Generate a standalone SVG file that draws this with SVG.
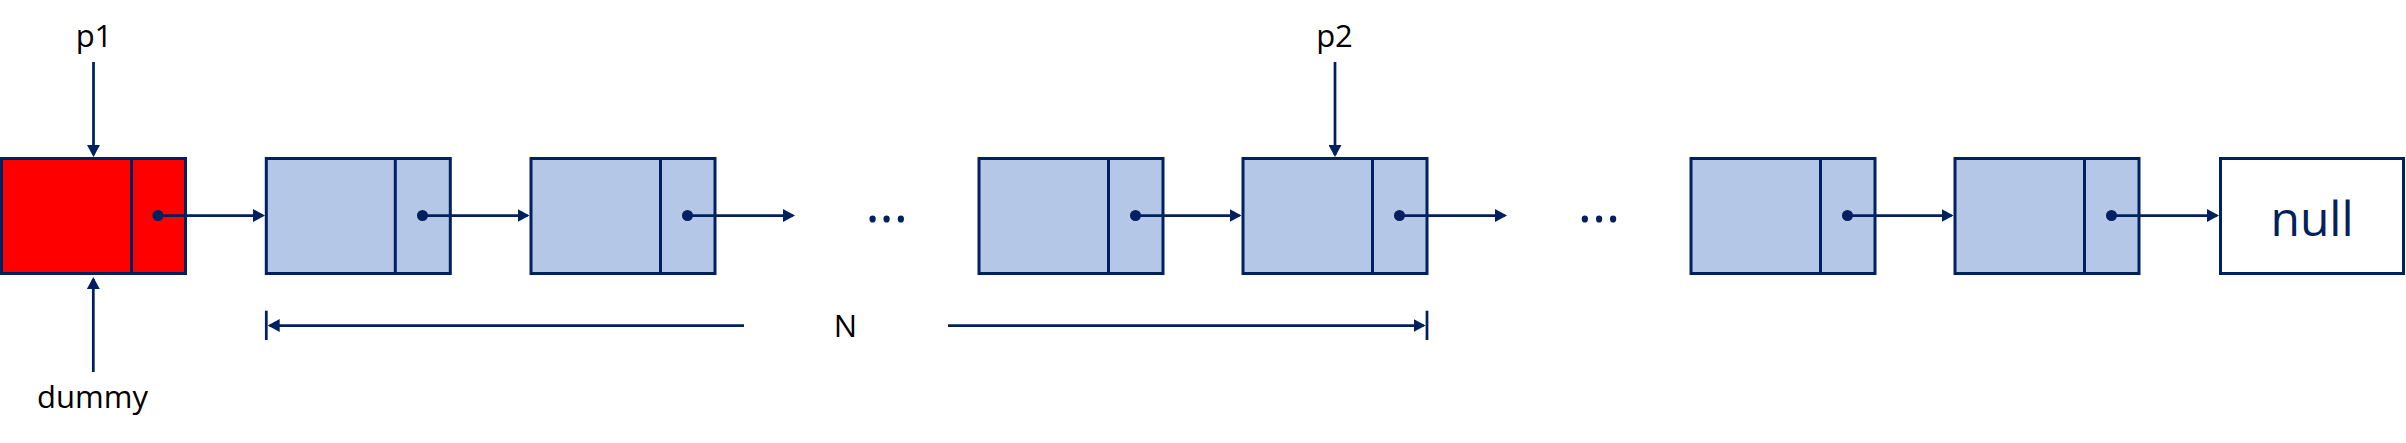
<svg xmlns="http://www.w3.org/2000/svg" width="2406" height="443" viewBox="0 0 2406 443">
  <defs>
    <style>
      .box { stroke: #002060; stroke-width: 3; }
      .blue { fill: #B4C7E7; }
      .red { fill: #FF0000; }
      .white { fill: #FFFFFF; }
      .div { stroke: #002060; stroke-width: 3; }
      .ln { stroke: #002060; stroke-width: 2.75; fill: none; }
      .arr { marker-end: url(#ah); }
      .dot { fill: #002060; }
      .lbl { font-family: "Open Sans", "Liberation Sans", sans-serif; font-size: 31px; fill: #000000; text-anchor: middle; }
      .ell { font-family: "Open Sans", "Liberation Sans", sans-serif; font-size: 54px; fill: #002060; text-anchor: middle; }
      .null { font-family: "Open Sans", "Liberation Sans", sans-serif; font-size: 48px; fill: #002060; text-anchor: middle; }
    </style>
    <marker id="ah" markerUnits="userSpaceOnUse" markerWidth="13" markerHeight="13" refX="10" refY="6.5" orient="auto" viewBox="0 0 13 13">
      <path d="M0,0 L12,6.5 L0,13 z" fill="#002060"/>
    </marker>
  </defs>

  <g id="node-dummy">
    <rect class="box red" x="1.5" y="158.5" width="184" height="115"/>
    <line class="div" x1="131.5" y1="158.5" x2="131.5" y2="273.5"/>
    <circle class="dot" cx="158" cy="215.5" r="5.5"/>
  </g>
  <g id="node-1">
    <rect class="box blue" x="266.3" y="158.5" width="184" height="115"/>
    <line class="div" x1="395.3" y1="158.5" x2="395.3" y2="273.5"/>
    <circle class="dot" cx="422.5" cy="215.5" r="5.5"/>
  </g>
  <g id="node-2">
    <rect class="box blue" x="531" y="158.5" width="184" height="115"/>
    <line class="div" x1="660.5" y1="158.5" x2="660.5" y2="273.5"/>
    <circle class="dot" cx="687.5" cy="215.5" r="5.5"/>
  </g>
  <g id="node-3">
    <rect class="box blue" x="979" y="158.5" width="184" height="115"/>
    <line class="div" x1="1108.5" y1="158.5" x2="1108.5" y2="273.5"/>
    <circle class="dot" cx="1135.5" cy="215.5" r="5.5"/>
  </g>
  <g id="node-p2">
    <rect class="box blue" x="1243" y="158.5" width="184" height="115"/>
    <line class="div" x1="1372.5" y1="158.5" x2="1372.5" y2="273.5"/>
    <circle class="dot" cx="1399.5" cy="215.5" r="5.5"/>
  </g>
  <g id="node-5">
    <rect class="box blue" x="1691" y="158.5" width="184" height="115"/>
    <line class="div" x1="1820.5" y1="158.5" x2="1820.5" y2="273.5"/>
    <circle class="dot" cx="1847.5" cy="215.5" r="5.5"/>
  </g>
  <g id="node-6">
    <rect class="box blue" x="1955" y="158.5" width="184" height="115"/>
    <line class="div" x1="2084.5" y1="158.5" x2="2084.5" y2="273.5"/>
    <circle class="dot" cx="2111.5" cy="215.5" r="5.5"/>
  </g>
  <g id="node-null">
    <rect class="box white" x="2220.5" y="158.5" width="183" height="115"/>
    <text class="null" x="2312" y="236">null</text>
  </g>

  <g id="label-p1"><text class="lbl" x="94" y="47">p1</text></g>
  <g id="label-p2"><text class="lbl" x="1334.5" y="47">p2</text></g>
  <g id="label-dummy"><text class="lbl" x="92.5" y="408">dummy</text></g>
  <g id="label-N"><text class="lbl" x="845.5" y="337">N</text></g>
  <g id="ellipsis-1"><text class="ell" x="886.7" y="222">...</text></g>
  <g id="ellipsis-2"><text class="ell" x="1599" y="222">...</text></g>

  <g id="connectors">
    <line class="ln arr" x1="93.5" y1="62" x2="93.5" y2="155"/>
    <line class="ln arr" x1="93.3" y1="372" x2="93.3" y2="279"/>
    <line class="ln arr" x1="1335" y1="62" x2="1335" y2="155"/>

    <line class="ln arr" x1="158" y1="215.5" x2="263" y2="215.5"/>
    <line class="ln arr" x1="422.5" y1="215.5" x2="527.5" y2="215.5"/>
    <line class="ln arr" x1="687.5" y1="215.5" x2="793" y2="215.5"/>
    <line class="ln arr" x1="1135.5" y1="215.5" x2="1239.5" y2="215.5"/>
    <line class="ln arr" x1="1399.5" y1="215.5" x2="1505" y2="215.5"/>
    <line class="ln arr" x1="1847.5" y1="215.5" x2="1951.5" y2="215.5"/>
    <line class="ln arr" x1="2111.5" y1="215.5" x2="2217" y2="215.5"/>

    <line class="ln" x1="266.3" y1="310.7" x2="266.3" y2="340"/>
    <line class="ln arr" x1="744" y1="325.5" x2="269.7" y2="325.5"/>
    <line class="ln" x1="1427" y1="310.7" x2="1427" y2="340"/>
    <line class="ln arr" x1="948" y1="325.5" x2="1423.6" y2="325.5"/>
  </g>
</svg>
